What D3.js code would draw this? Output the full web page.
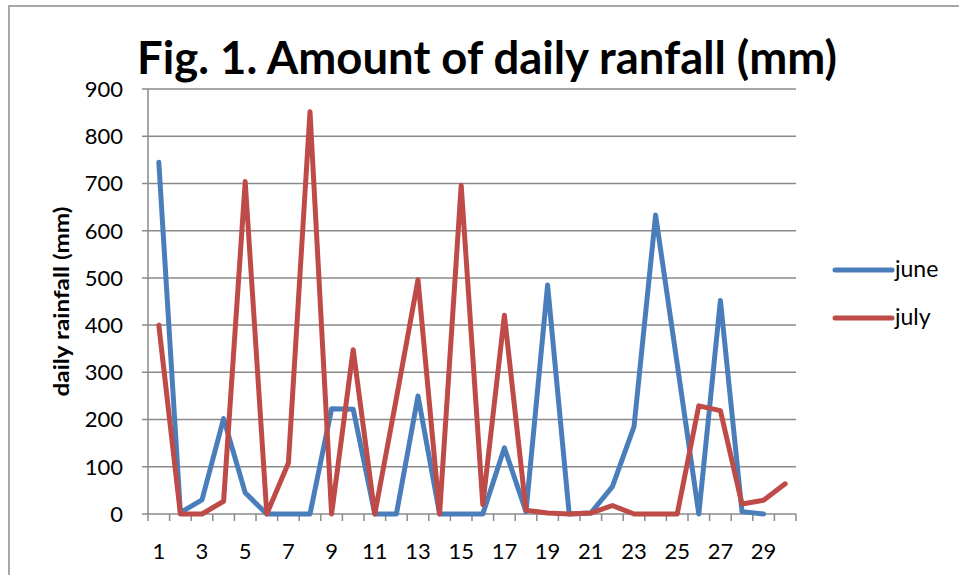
<!DOCTYPE html>
<html>
<head>
<meta charset="utf-8">
<script src="https://cdn.jsdelivr.net/npm/d3@7"></script>
<style>
  body { margin: 0; background: #fff; }
  svg { display: block; font-family: Lato, "Open Sans", sans-serif; }
</style>
</head>
<body>
<div id="chart"></div>
<script>
// days on the x axis (1..30)
var days = d3.range(1, 31);
var xTickLabels = [1, 3, 5, 7, 9, 11, 13, 15, 17, 19, 21, 23, 25, 27, 29];
var yTicks = [0, 100, 200, 300, 400, 500, 600, 700, 800, 900];

var june = [745, 3, 30, 202, 45, 0, 0, 0, 223, 222, 0, 0, 250, 0, 0, 0, 140, 5, 485, 0,
            2, 58, 185, 633, 318, 0, 452, 5, 0];
var july = [400, 0, 0, 27, 704, 0, 108, 852, 0, 348, 0, 245, 496, 0, 696, 20, 421, 8, 2, 0,
            2, 18, 0, 0, 0, 229, 219, 21, 29, 64];

var seriesNames = ["june", "july"];
var seriesColors = ["#4A7EBB", "#BE4B48"];

var width = 959, height = 575;
var margin = { left: 148, right: 163, top: 89, bottom: 61 };

var svg = d3.select('#chart').append('svg')
  .attr('width', width)
  .attr('height', height);

// outer chart frame
svg.append('rect')
  .attr('x', 9).attr('y', 6)
  .attr('width', 1000).attr('height', 600)
  .attr('fill', 'none')
  .attr('stroke', '#8c8c8c')
  .attr('stroke-width', 1.5);

var x = d3.scaleBand()
  .domain(days)
  .range([margin.left, width - margin.right]);

var y = d3.scaleLinear()
  .domain([0, 900])
  .range([height - margin.bottom, margin.top]);

// gridlines
svg.append('g').attr('class', 'grid')
  .selectAll('line')
  .data(yTicks)
  .enter().append('line')
  .attr('x1', margin.left - 6)
  .attr('x2', width - margin.right)
  .attr('y1', function (d) { return y(d); })
  .attr('y2', function (d) { return y(d); })
  .attr('stroke', '#8a8a8a')
  .attr('stroke-width', 1.5);

// y axis line
svg.append('line')
  .attr('x1', margin.left).attr('x2', margin.left)
  .attr('y1', y(900)).attr('y2', y(0))
  .attr('stroke', '#8a8a8a').attr('stroke-width', 1.5);

// y tick labels
svg.append('g')
  .selectAll('text')
  .data(yTicks)
  .enter().append('text')
  .attr('x', margin.left - 25)
  .attr('y', function (d) { return y(d); })
  .attr('dy', '0.36em')
  .attr('text-anchor', 'end')
  .attr('font-size', 22)
  .attr('fill', '#000')
  .text(function (d) { return d; });

// x tick marks at band edges
var edges = days.map(function (d) { return x(d); }).concat([x(30) + x.bandwidth()]);
svg.append('g')
  .selectAll('line')
  .data(edges)
  .enter().append('line')
  .attr('x1', function (d) { return d; })
  .attr('x2', function (d) { return d; })
  .attr('y1', y(0))
  .attr('y2', y(0) + 7)
  .attr('stroke', '#8a8a8a')
  .attr('stroke-width', 1.5);

// x tick labels
svg.append('g')
  .selectAll('text')
  .data(xTickLabels)
  .enter().append('text')
  .attr('x', function (d) { return x(d) + x.bandwidth() / 2; })
  .attr('y', 559)
  .attr('text-anchor', 'middle')
  .attr('font-size', 22)
  .attr('fill', '#000')
  .text(function (d) { return d; });

// lines
var line = d3.line()
  .x(function (d, i) { return x(days[i]) + x.bandwidth() / 2; })
  .y(function (d) { return y(d); });

[june, july].forEach(function (vals, k) {
  svg.append('path')
    .datum(vals)
    .attr('d', line)
    .attr('fill', 'none')
    .attr('stroke', seriesColors[k])
    .attr('stroke-width', 5)
    .attr('stroke-linejoin', 'round')
    .attr('stroke-linecap', 'round');
});

// title
svg.append('text')
  .attr('x', 487)
  .attr('y', 74)
  .attr('text-anchor', 'middle')
  .attr('font-size', 45)
  .attr('font-weight', 'bold')
  .attr('textLength', 700)
  .attr('lengthAdjust', 'spacingAndGlyphs')
  .text('Fig. 1. Amount of daily ranfall (mm)');

// y axis title
svg.append('text')
  .attr('transform', 'translate(69,' + ((y(0) + y(900)) / 2) + ') rotate(-90)')
  .attr('text-anchor', 'middle')
  .attr('font-size', 20)
  .attr('font-weight', 'bold')
  .attr('textLength', 190)
  .attr('lengthAdjust', 'spacingAndGlyphs')
  .text('daily rainfall (mm)');

// legend
var legend = svg.append('g')
  .selectAll('g')
  .data(seriesNames)
  .enter().append('g')
  .attr('transform', function (d, i) { return 'translate(835,' + (270 + i * 48) + ')'; });

legend.append('line')
  .attr('x1', 0).attr('x2', 57)
  .attr('y1', 0).attr('y2', 0)
  .attr('stroke', function (d, i) { return seriesColors[i]; })
  .attr('stroke-width', 5)
  .attr('stroke-linecap', 'round');

legend.append('text')
  .attr('x', 60)
  .attr('y', 0)
  .attr('dy', '0.32em')
  .attr('font-size', 23)
  .text(function (d) { return d; });
</script>
</body>
</html>
